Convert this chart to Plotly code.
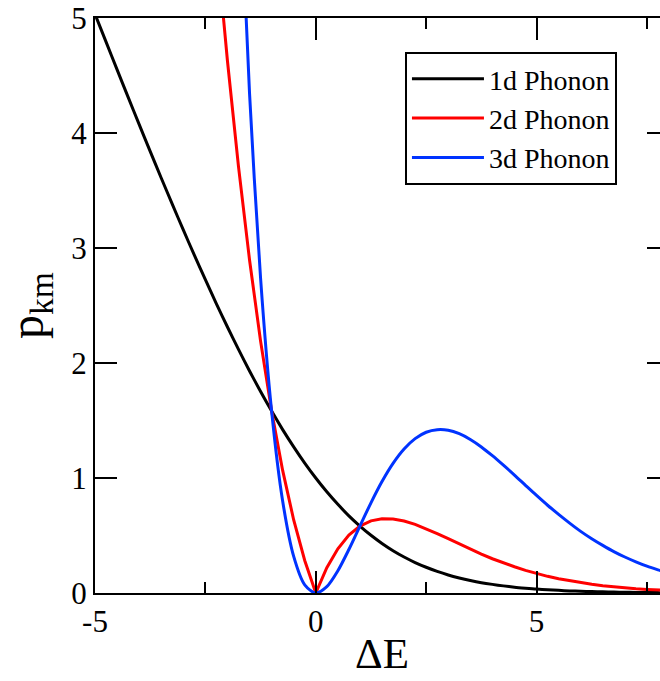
import plotly.graph_objects as go

# Energy difference grid (read at 0.25 steps)
x_1d = [-5.0, -4.75, -4.5, -4.25, -4.0, -3.75, -3.5, -3.25, -3.0, -2.75, -2.5, -2.25,
        -2.0, -1.75, -1.5, -1.25, -1.0, -0.75, -0.5, -0.25, 0.0, 0.25, 0.5, 0.75,
        1.0, 1.25, 1.5, 1.75, 2.0, 2.25, 2.5, 2.75, 3.0, 3.25, 3.5, 3.75, 4.0, 4.25,
        4.5, 4.75, 5.0, 5.25, 5.5, 5.75, 6.0, 6.25, 6.5, 6.75, 7.0, 7.25, 7.5, 7.75, 8.0]
p_1d = [5.034, 4.792, 4.551, 4.312, 4.075, 3.840, 3.609, 3.381, 3.157, 2.938, 2.724, 2.515,
        2.313, 2.118, 1.931, 1.752, 1.582, 1.421, 1.271, 1.130, 1.000, 0.880, 0.771, 0.671,
        0.582, 0.502, 0.431, 0.368, 0.313, 0.265, 0.224, 0.188, 0.157, 0.131, 0.109, 0.090,
        0.075, 0.062, 0.051, 0.042, 0.034, 0.028, 0.023, 0.018, 0.015, 0.012, 0.0098, 0.0079,
        0.0064, 0.0052, 0.0042, 0.0033, 0.0027]

x_2d = [-2.25, -2.0, -1.75, -1.5, -1.25, -1.0, -0.75, -0.5, -0.25, 0.0, 0.25, 0.5, 0.75,
        1.0, 1.25, 1.5, 1.75, 2.0, 2.25, 2.5, 2.75, 3.0, 3.25, 3.5, 3.75, 4.0, 4.25,
        4.5, 4.75, 5.0, 5.25, 5.5, 5.75, 6.0, 6.25, 6.5, 6.75, 7.0, 7.25, 7.5, 7.75, 8.0]
p_2d = [5.659, 4.626, 3.707, 2.896, 2.190, 1.582, 1.066, 0.635, 0.283, 0.0, 0.220, 0.385, 0.504,
        0.582, 0.627, 0.646, 0.644, 0.626, 0.597, 0.559, 0.516, 0.472, 0.426, 0.382, 0.339, 0.298, 0.261,
        0.228, 0.197, 0.170, 0.145, 0.124, 0.106, 0.089, 0.076, 0.064, 0.053, 0.045, 0.037, 0.031, 0.026, 0.022]

x_3d = [-1.75, -1.5, -1.25, -1.0, -0.75, -0.5, -0.25, 0.0, 0.25, 0.5, 0.75,
        1.0, 1.25, 1.5, 1.75, 2.0, 2.25, 2.5, 2.75, 3.0, 3.25, 3.5, 3.75, 4.0, 4.25,
        4.5, 4.75, 5.0, 5.25, 5.5, 5.75, 6.0, 6.25, 6.5, 6.75, 7.0, 7.25, 7.5, 7.75, 8.0]
p_3d = [6.487, 4.344, 2.737, 1.582, 0.800, 0.318, 0.071, 0.0, 0.055, 0.193, 0.378,
        0.582, 0.784, 0.969, 1.127, 1.252, 1.342, 1.398, 1.420, 1.415, 1.385, 1.335, 1.270, 1.194, 1.111,
        1.025, 0.936, 0.848, 0.763, 0.684, 0.608, 0.536, 0.472, 0.414, 0.360, 0.313, 0.271, 0.233, 0.201, 0.172]

names = ["1d Phonon", "2d Phonon", "3d Phonon"]
x_tickvals = [-5, 0, 5]
x_ticktext = ["-5", "0", "5"]
y_tickvals = [0, 1, 2, 3, 4, 5]

FONT = "'Liberation Serif', 'Times New Roman', Times, serif"

fig = go.Figure()
fig.add_trace(go.Scatter(x=x_1d, y=p_1d, mode="lines", name=names[0],
                         line=dict(color="#000000", width=3, shape="spline", smoothing=0.8)))
fig.add_trace(go.Scatter(x=x_2d, y=p_2d, mode="lines", name=names[1],
                         line=dict(color="#ff0000", width=3)))
fig.add_trace(go.Scatter(x=x_3d, y=p_3d, mode="lines", name=names[2],
                         line=dict(color="#0033ff", width=3, shape="spline", smoothing=0.8)))

axis_common = dict(showline=True, linewidth=2, linecolor="black", mirror="ticks",
                   ticks="inside", ticklen=22, tickwidth=2, tickcolor="black",
                   showgrid=False, zeroline=False,
                   tickfont=dict(family=FONT, size=31, color="black"))

fig.update_xaxes(range=[-5, 8], tickmode="array", tickvals=x_tickvals, ticktext=x_ticktext,
                 minor=dict(dtick=2.5, ticks="inside", ticklen=11, tickwidth=2, tickcolor="black"),
                 title=dict(text="ΔE", font=dict(family=FONT, size=43, color="black"), standoff=0),
                 **axis_common)
fig.update_yaxes(range=[0, 5], tickmode="array", tickvals=y_tickvals,
                 title=dict(text="p<sub>km</sub>", font=dict(family=FONT, size=48, color="black"), standoff=14),
                 **axis_common)

fig.update_layout(
    width=680, height=681,
    margin=dict(l=95, r=11, t=18, b=88, autoexpand=False),
    plot_bgcolor="white", paper_bgcolor="white",
    showlegend=True,
    legend=dict(x=0.540, y=0.941, xanchor="left", yanchor="top",
                bordercolor="black", borderwidth=2, bgcolor="white",
                font=dict(family=FONT, size=28, color="black"),
                itemwidth=72, tracegroupgap=0),
)

fig.write_html("out.html", post_script="document.documentElement.style.overflow='hidden';document.body.style.overflow='hidden';document.body.style.margin='0';")
